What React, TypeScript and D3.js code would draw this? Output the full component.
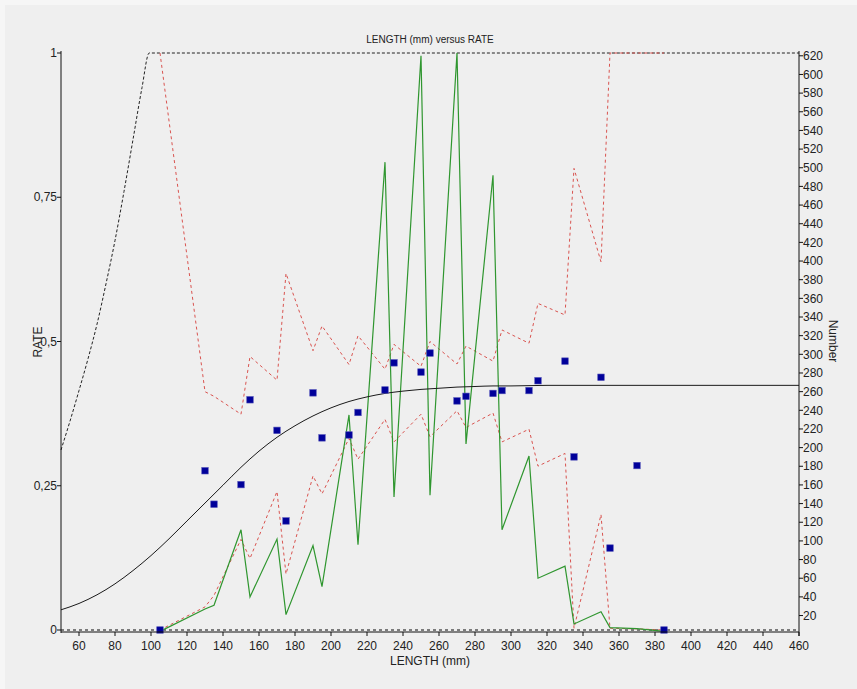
import React from "react";
import * as d3 from "d3";

// ---- data ----
const lengthClasses = [105, 130, 135, 150, 155, 170, 175, 190, 195, 210, 215, 230, 235, 250, 255, 270, 275, 290, 295, 310, 315, 330, 335, 350, 355, 370, 385];
const observedRate = [0, 0.276, 0.218, 0.252, 0.399, 0.346, 0.189, 0.411, 0.333, 0.338, 0.377, 0.416, 0.463, 0.447, 0.48, 0.397, 0.405, 0.41, 0.415, 0.415, 0.432, 0.466, 0.3, 0.438, 0.142, 0.285, 0];
const upperRate = [1, 0.413, 0.405, 0.374, 0.474, 0.433, 0.618, 0.484, 0.527, 0.46, 0.51, 0.452, 0.495, 0.457, 0.5, 0.461, 0.492, 0.466, 0.52, 0.497, 0.566, 0.546, 0.8, 0.638, 1, 1, 1];
const lowerRate = [0, 0.04, 0.06, 0.157, 0.124, 0.24, 0.097, 0.267, 0.236, 0.332, 0.296, 0.365, 0.326, 0.374, 0.335, 0.38, 0.351, 0.376, 0.326, 0.348, 0.284, 0.306, 0.003, 0.2, 0.003, 0.002, 0];
const numberCaught = [3, 27, 31, 112, 40, 102, 21, 95, 51, 235, 96, 506, 147, 620, 149, 623, 204, 492, 112, 191, 60, 73, 11, 24, 7, 6, 3];

const fitLengths = [50, 60, 70, 80, 90, 100, 110, 120, 130, 140, 150, 160, 170, 180, 190, 200, 210, 220, 230, 240, 250, 260, 270, 280, 290, 300, 320, 340, 380, 420, 460];
const fitRate = [0.035, 0.046, 0.061, 0.08, 0.103, 0.129, 0.158, 0.189, 0.22, 0.251, 0.282, 0.31, 0.334, 0.354, 0.371, 0.385, 0.396, 0.404, 0.41, 0.414, 0.417, 0.419, 0.421, 0.422, 0.423, 0.423, 0.424, 0.424, 0.424, 0.424, 0.424];

const fitUpperLengths = [50, 55, 60, 65, 70, 75, 80, 85, 90, 95, 99, 460];
const fitUpperRate = [0.312, 0.362, 0.415, 0.47, 0.53, 0.6, 0.675, 0.76, 0.85, 0.94, 1, 1];
const fitLowerLengths = [50, 460];
const fitLowerRate = [0, 0];

const xTicks = [60, 80, 100, 120, 140, 160, 180, 200, 220, 240, 260, 280, 300, 320, 340, 360, 380, 400, 420, 440, 460];
const rateTicks = [0, 0.25, 0.5, 0.75, 1];
const rateTickLabels = ["0", "0,25", "0,5", "0,75", "1"];
const numberTicks = [20, 40, 60, 80, 100, 120, 140, 160, 180, 200, 220, 240, 260, 280, 300, 320, 340, 360, 380, 400, 420, 440, 460, 480, 500, 520, 540, 560, 580, 600, 620];

const W = 857;
const H = 689;
const FONT = "Liberation Sans, Arial, sans-serif";

export default function App() {
  const left = 61, right = 799, top = 53, bottom = 630, axisY = 632;
  const x = d3.scaleLinear().domain([50, 460]).range([left, right]);
  const yL = d3.scaleLinear().domain([0, 1]).range([bottom, top]);
  const yR = d3.scaleLinear().domain([4.5, 623]).range([bottom, top]);

  const lineXY = (xs: number[], ys: number[], ys2: (v: number) => number, curve: any = d3.curveLinear) =>
    d3.line<number>().x((_, i) => x(xs[i])).y((v) => ys2(v)).curve(curve)(ys) || "";

  return (
    <svg width={W} height={H} style={{ position: "absolute", left: 0, top: 0, fontFamily: FONT }}>
      <rect x={0} y={0} width={W} height={H} fill="#f6f6f6" />
      <rect x={5} y={5} width={W - 5} height={H - 5} fill="#efefef" />

      <text x={(left + right) / 2} y={43} textAnchor="middle" fontSize={10} fill="#222">
        LENGTH (mm) versus RATE
      </text>

      {/* fit bounds */}
      <path d={lineXY(fitUpperLengths, fitUpperRate, yL, d3.curveMonotoneX)} fill="none" stroke="#222" strokeWidth={1} strokeDasharray="3,2" />
      <path d={lineXY(fitLowerLengths, fitLowerRate, yL)} fill="none" stroke="#555" strokeWidth={1.5} strokeDasharray="3,3" />

      {/* confidence limits */}
      <path d={lineXY(lengthClasses, upperRate, yL)} fill="none" stroke="#d9534f" strokeWidth={1} strokeDasharray="3,3" />
      <path d={lineXY(lengthClasses, lowerRate, yL)} fill="none" stroke="#d9534f" strokeWidth={1} strokeDasharray="3,3" />

      {/* number */}
      <path d={lineXY(lengthClasses, numberCaught, yR)} fill="none" stroke="#2f962f" strokeWidth={1.2} />

      {/* fitted curve */}
      <path d={lineXY(fitLengths, fitRate, yL, d3.curveMonotoneX)} fill="none" stroke="#1a1a1a" strokeWidth={1} />

      {/* observed */}
      {lengthClasses.map((l, i) => (
        <rect key={i} x={x(l) - 3.25} y={yL(observedRate[i]) - 3.25} width={6.5} height={6.5} fill="#00009a" stroke="#5050b8" strokeWidth={0.6} />
      ))}

      {/* left axis */}
      <line x1={left} x2={left} y1={top - 2} y2={axisY + 1} stroke="#111" />
      {rateTicks.map((t, i) => (
        <g key={t}>
          <line x1={left - 4} x2={left} y1={yL(t)} y2={yL(t)} stroke="#111" />
          <text x={left - 4} y={yL(t)} dy="0.35em" textAnchor="end" fontSize={12} fill="#222">
            {rateTickLabels[i]}
          </text>
        </g>
      ))}
      <text transform={`translate(42,${342}) rotate(-90)`} textAnchor="middle" fontSize={12} fill="#222">
        RATE
      </text>

      {/* right axis */}
      <line x1={right} x2={right} y1={top - 2} y2={axisY + 4} stroke="#111" />
      {numberTicks.map((t) => (
        <g key={t}>
          <line x1={right} x2={right + 4} y1={yR(t)} y2={yR(t)} stroke="#111" />
          <text x={right + 4} y={yR(t)} dy="0.35em" textAnchor="start" fontSize={12} fill="#222">
            {t}
          </text>
        </g>
      ))}
      <text transform={`translate(829,${341}) rotate(90)`} textAnchor="middle" fontSize={12} fill="#222">
        Number
      </text>

      {/* bottom axis */}
      <line x1={left} x2={right} y1={axisY} y2={axisY} stroke="#111" />
      {xTicks.map((t) => (
        <g key={t}>
          <line x1={x(t)} x2={x(t)} y1={axisY} y2={axisY + 4} stroke="#111" />
          <text x={x(t)} y={650} textAnchor="middle" fontSize={12} fill="#222">
            {t}
          </text>
        </g>
      ))}
      <text x={(left + right) / 2} y={665} textAnchor="middle" fontSize={12} fill="#222">
        LENGTH (mm)
      </text>
    </svg>
  );
}
